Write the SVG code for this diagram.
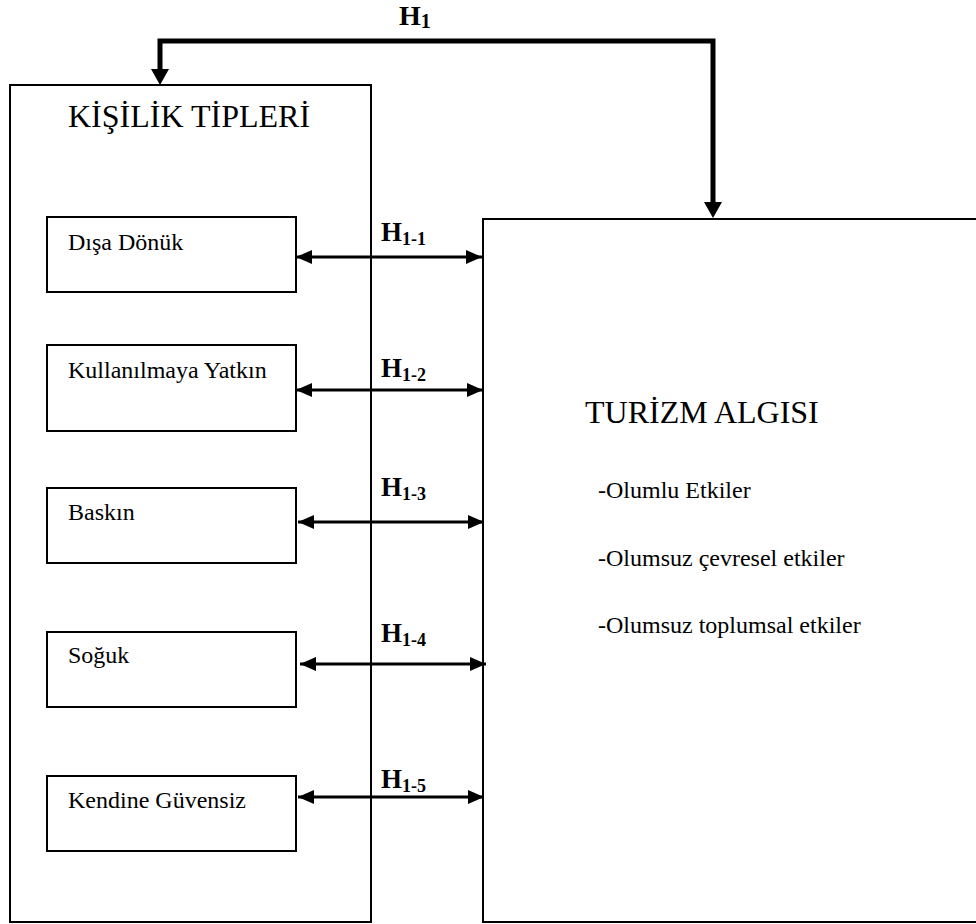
<svg xmlns="http://www.w3.org/2000/svg" width="976" height="924" viewBox="0 0 976 924">
<defs>
<marker id="ah" markerWidth="16" markerHeight="14" refX="16" refY="7" orient="auto-start-reverse" markerUnits="userSpaceOnUse">
<path d="M0,0 L16,7 L0,14 Z" fill="#000"/>
</marker>
</defs>
<style>
.box{fill:none;stroke:#000;stroke-width:2}
text{font-family:'Liberation Serif','Times New Roman',serif;fill:#000}
.big{font-size:32px}
.sm{font-size:24px}
.h{font-weight:bold;font-size:27px}
.sub{font-size:18px}
.arr{fill:none;stroke:#000;stroke-width:3}
</style>
<rect width="976" height="924" fill="#fff"/>
<g id="kisilik" font-family="Liberation Serif, serif">
<rect class="box" x="10" y="85" width="361" height="837"/>
<text class="big" x="68" y="127">KİŞİLİK TİPLERİ</text>
</g>
<g id="disa" font-family="Liberation Serif, serif"><rect class="box" x="47" y="217" width="249" height="75"/><text class="sm" x="68" y="250">Dışa Dönük</text></g>
<g id="kullan" font-family="Liberation Serif, serif"><rect class="box" x="47" y="345" width="249" height="86"/><text class="sm" x="68" y="378">Kullanılmaya Yatkın</text></g>
<g id="baskin" font-family="Liberation Serif, serif"><rect class="box" x="47" y="488" width="249" height="75"/><text class="sm" x="68" y="520">Baskın</text></g>
<g id="soguk" font-family="Liberation Serif, serif"><rect class="box" x="47" y="632" width="249" height="75"/><text class="sm" x="68" y="663">Soğuk</text></g>
<g id="kendine" font-family="Liberation Serif, serif"><rect class="box" x="47" y="776" width="249" height="75"/><text class="sm" x="68" y="808">Kendine Güvensiz</text></g>
<g id="turizm" font-family="Liberation Serif, serif">
<rect class="box" x="483" y="219" width="600" height="703"/>
<text class="big" x="585" y="423">TURİZM ALGISI</text>
<text class="sm" x="598" y="498">-Olumlu Etkiler</text>
<text class="sm" x="598" y="566">-Olumsuz çevresel etkiler</text>
<text class="sm" x="598" y="633">-Olumsuz toplumsal etkiler</text>
</g>
<g id="connectors">
<path d="M160,70 L160,41 L713,41 L713,203" fill="none" stroke="#000" stroke-width="5"/>
<path d="M151,69 L169,69 L160,85 Z" fill="#000"/>
<path d="M704,202 L722,202 L713,218 Z" fill="#000"/>
<line class="arr" x1="296" y1="257" x2="482" y2="257" marker-start="url(#ah)" marker-end="url(#ah)"/>
<line class="arr" x1="296" y1="390" x2="483" y2="390" marker-start="url(#ah)" marker-end="url(#ah)"/>
<line class="arr" x1="298" y1="522" x2="484" y2="522" marker-start="url(#ah)" marker-end="url(#ah)"/>
<line class="arr" x1="300" y1="664" x2="486" y2="664" marker-start="url(#ah)" marker-end="url(#ah)"/>
<line class="arr" x1="298" y1="797" x2="484" y2="797" marker-start="url(#ah)" marker-end="url(#ah)"/>
</g>
<g id="labels" font-family="Liberation Serif, serif">
<text class="h" x="399" y="25" style="font-size:28px">H<tspan class="sub" dy="3" style="font-size:20px">1</tspan></text>
<text class="h" x="381" y="241">H<tspan class="sub" dy="4">1-1</tspan></text>
<text class="h" x="381" y="377">H<tspan class="sub" dy="4">1-2</tspan></text>
<text class="h" x="381" y="496">H<tspan class="sub" dy="4">1-3</tspan></text>
<text class="h" x="381" y="642">H<tspan class="sub" dy="4">1-4</tspan></text>
<text class="h" x="381" y="788">H<tspan class="sub" dy="4">1-5</tspan></text>
</g>
</svg>
